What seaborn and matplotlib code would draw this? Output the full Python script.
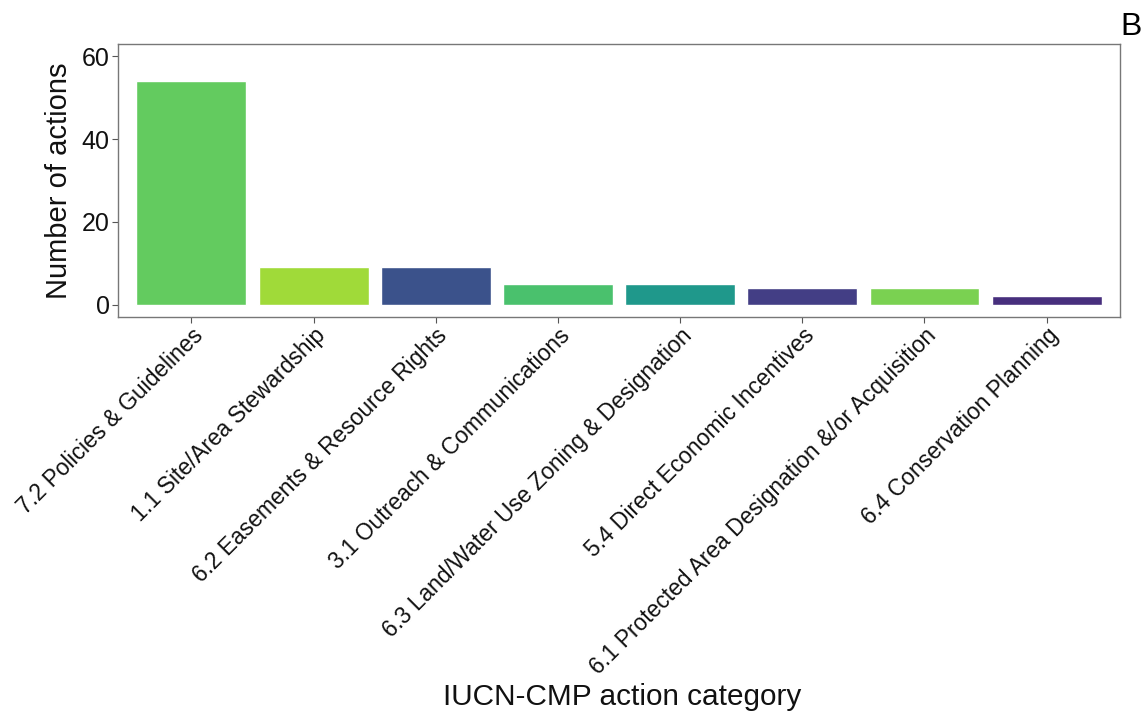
import matplotlib
matplotlib.use("Agg")
import matplotlib.pyplot as plt
import seaborn as sns
import pandas as pd

categories = [
    "7.2 Policies & Guidelines",
    "1.1 Site/Area Stewardship",
    "6.2 Easements & Resource Rights",
    "3.1 Outreach & Communications",
    "6.3 Land/Water Use Zoning & Designation",
    "5.4 Direct Economic Incentives",
    "6.1 Protected Area Designation &/or Acquisition",
    "6.4 Conservation Planning",
]
counts = [54, 9, 9, 5, 5, 4, 4, 2]
bar_colors = ["#63CB5F", "#A0DA39", "#3B528B", "#4AC16D",
              "#1F988B", "#433E85", "#7AD151", "#472F7D"]

df = pd.DataFrame({"category": categories, "count": counts})

sns.set_theme(style="white")
plt.rcParams["font.family"] = ["Liberation Sans", "DejaVu Sans"]

fig = plt.figure(figsize=(11.47, 7.13), dpi=100)
ax = fig.add_axes([118 / 1147, 1 - 317 / 713, (1120 - 118) / 1147, (317 - 44) / 713])

sns.barplot(data=df, x="category", y="count", hue="category",
            palette=bar_colors, order=categories, hue_order=categories,
            width=0.9, legend=False, saturation=1, ax=ax)

ax.set_xlim(-0.6, len(categories) - 0.4)
ax.set_ylim(-3, 63)
ax.set_yticks([0, 20, 40, 60])
ax.tick_params(axis="y", labelsize=18, length=4, color="#555555", width=0.8,
               left=True, pad=2, labelcolor="#111111")
ax.tick_params(axis="x", labelsize=16.4, length=4, color="#555555", width=0.8,
               bottom=True, pad=1, labelcolor="#111111")
for lab in ax.get_xticklabels():
    lab.set_rotation(45)
    lab.set_ha("right")
    lab.set_va("top")
    lab.set_rotation_mode("anchor")

for s in ax.spines.values():
    s.set_color("#777777")
    s.set_linewidth(1.0)
    s.set_visible(True)

ax.set_ylabel("Number of actions", fontsize=21, labelpad=6, color="#111111")
ax.set_xlabel("")
fig.text(0.542, 1 - 705 / 713, "IUCN-CMP action category", fontsize=21.4,
         ha="center", va="baseline", color="#111111")
fig.text(1120 / 1147, 1 - 27 / 713, "B", fontsize=23, ha="left", va="center",
         color="#000000")

fig.savefig("out.png", dpi=100)
